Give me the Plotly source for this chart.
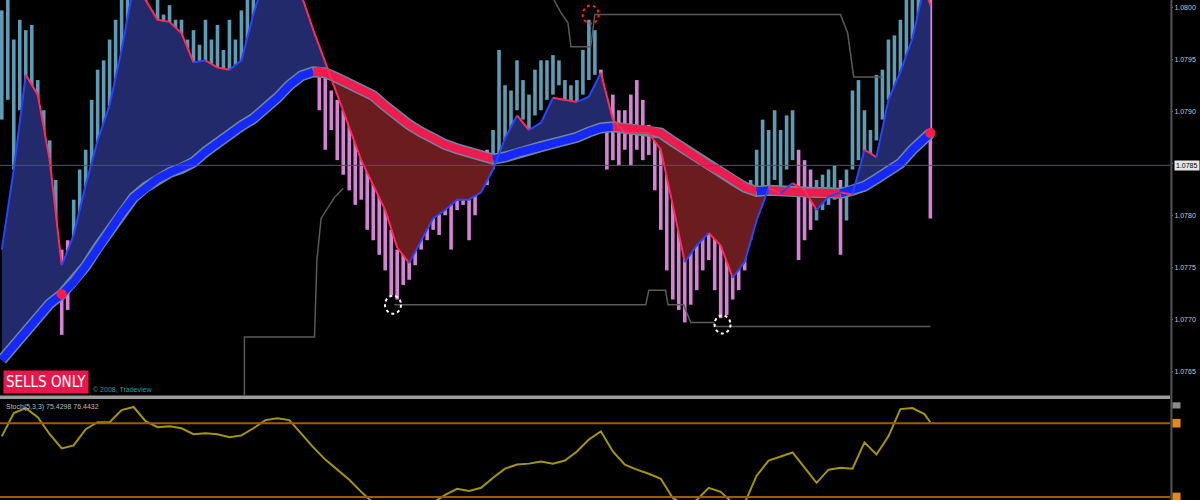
import plotly.graph_objects as go

# bar index on x (one bar ~ 6 px), price on y
line_bars = list(range(0, 156, 2)) + [155]

fast_ma = [1.07767, 1.07844, 1.07935, 1.07916, 1.07853, 1.07752, 1.07781, 1.07829, 1.07872, 1.07906,
           1.07959, 1.08021, 1.08007, 1.07988, 1.07986, 1.07975, 1.07947, 1.07949, 1.07942, 1.07940,
           1.07949, 1.07993, 1.08031, 1.08041, 1.08036, 1.08012, 1.07978, 1.07947, 1.07916, 1.07884,
           1.07853, 1.07829, 1.07805, 1.07769, 1.07754, 1.07776, 1.07797, 1.07805, 1.07815, 1.07815,
           1.07822, 1.07844, 1.07874, 1.07896, 1.07882, 1.07889, 1.07913, 1.07911, 1.07909, 1.07914,
           1.07937, 1.07892, 1.07880, 1.07879, 1.07879, 1.07863, 1.07810, 1.07755, 1.07771, 1.07783,
           1.07771, 1.07740, 1.07755, 1.07795, 1.07826, 1.07821, 1.07831, 1.07824, 1.07805, 1.07818,
           1.07822, 1.07820, 1.07863, 1.07856, 1.07911, 1.07938, 1.07970, 1.08021,
           1.08002]

slow_ma = [1.07661, 1.07675, 1.07690, 1.07703, 1.07715, 1.07724, 1.07736, 1.07751, 1.07769, 1.07786,
           1.07802, 1.07817, 1.07827, 1.07835, 1.07841, 1.07845, 1.07851, 1.07861, 1.07870, 1.07879,
           1.07886, 1.07893, 1.07902, 1.07913, 1.07925, 1.07934, 1.07938, 1.07937, 1.07932, 1.07926,
           1.07920, 1.07915, 1.07905, 1.07895, 1.07887, 1.07880, 1.07873, 1.07868, 1.07864, 1.07860,
           1.07857, 1.07854, 1.07856, 1.07860, 1.07863, 1.07866, 1.07869, 1.07871, 1.07875, 1.07880,
           1.07884, 1.07885, 1.07884, 1.07883, 1.07882, 1.07879, 1.07871, 1.07863, 1.07855, 1.07848,
           1.07842, 1.07834, 1.07827, 1.07823, 1.07824, 1.07823, 1.07823, 1.07822, 1.07822, 1.07822,
           1.07821, 1.07824, 1.07828, 1.07835, 1.07842, 1.07850, 1.07863, 1.07874,
           1.07879]

candle_bars = list(range(156))
candle_high = [1.07997, 1.08007, 1.07969, 1.07988, 1.07978, 1.07983, 1.07930, 1.07901, 1.07872, 1.07834,
               1.07767, 1.07776, 1.07815, 1.07844, 1.07863, 1.07911, 1.07940, 1.07949, 1.07969, 1.07988,
               1.08007, 1.08017, 1.08007, 1.08002, 1.08007, 1.07997, 1.08007, 1.07993, 1.08002, 1.07988,
               1.07988, 1.07969, 1.07978, 1.07964, 1.07988, 1.07969, 1.07983, 1.07959, 1.07988, 1.07969,
               1.07997, 1.08007, 1.08012, 1.08017, 1.08017, 1.08017, 1.08017, 1.08012, 1.08007, 1.07997,
               1.07988, 1.07978, 1.07969, 1.07949, 1.07935, 1.07920, 1.07911, 1.07901, 1.07887, 1.07872,
               1.07863, 1.07848, 1.07839, 1.07829, 1.07815, 1.07786, 1.07767, 1.07771, 1.07767, 1.07791,
               1.07800, 1.07815, 1.07820, 1.07824, 1.07829, 1.07834, 1.07836, 1.07829, 1.07839, 1.07848,
               1.07848, 1.07863, 1.07882, 1.07959, 1.07925, 1.07920, 1.07949, 1.07930, 1.07916, 1.07940,
               1.07949, 1.07949, 1.07954, 1.07949, 1.07930, 1.07925, 1.07930, 1.07959, 1.07988, 1.07978,
               1.07940, 1.07911, 1.07916, 1.07901, 1.07901, 1.07916, 1.07930, 1.07911, 1.07887, 1.07872,
               1.07863, 1.07839, 1.07815, 1.07786, 1.07771, 1.07767, 1.07776, 1.07786, 1.07791, 1.07781,
               1.07776, 1.07767, 1.07757, 1.07767, 1.07805, 1.07834, 1.07863, 1.07892, 1.07882, 1.07901,
               1.07882, 1.07896, 1.07901, 1.07863, 1.07853, 1.07844, 1.07834, 1.07839, 1.07844, 1.07848,
               1.07834, 1.07844, 1.07920, 1.07930, 1.07901, 1.07882, 1.07935, 1.07940, 1.07969, 1.07973,
               1.07988, 1.08007, 1.08017, 1.08017, 1.08017, 1.08017]
candle_low = [1.07892, 1.07911, 1.07844, 1.07901, 1.07916, 1.07901, 1.07872, 1.07834, 1.07795, 1.07767,
              1.07685, 1.07709, 1.07747, 1.07767, 1.07795, 1.07824, 1.07853, 1.07872, 1.07901, 1.07920,
              1.07949, 1.07969, 1.07959, 1.07949, 1.07964, 1.07969, 1.07954, 1.07969, 1.07964, 1.07940,
              1.07930, 1.07911, 1.07920, 1.07935, 1.07940, 1.07901, 1.07925, 1.07925, 1.07930, 1.07935,
              1.07940, 1.07954, 1.07969, 1.07988, 1.07997, 1.08002, 1.07997, 1.07988, 1.07969, 1.07959,
              1.07954, 1.07949, 1.07940, 1.07901, 1.07863, 1.07882, 1.07853, 1.07839, 1.07824, 1.07810,
              1.07815, 1.07786, 1.07776, 1.07762, 1.07747, 1.07723, 1.07719, 1.07733, 1.07738, 1.07752,
              1.07767, 1.07776, 1.07786, 1.07781, 1.07800, 1.07767, 1.07805, 1.07810, 1.07776, 1.07800,
              1.07824, 1.07829, 1.07844, 1.07858, 1.07872, 1.07882, 1.07901, 1.07892, 1.07882, 1.07896,
              1.07901, 1.07911, 1.07916, 1.07925, 1.07906, 1.07901, 1.07906, 1.07916, 1.07930, 1.07935,
              1.07882, 1.07844, 1.07853, 1.07848, 1.07863, 1.07848, 1.07863, 1.07853, 1.07858, 1.07824,
              1.07786, 1.07747, 1.07719, 1.07709, 1.07697, 1.07714, 1.07728, 1.07747, 1.07757, 1.07728,
              1.07701, 1.07704, 1.07719, 1.07728, 1.07747, 1.07776, 1.07815, 1.07824, 1.07820, 1.07834,
              1.07820, 1.07844, 1.07853, 1.07757, 1.07776, 1.07786, 1.07795, 1.07805, 1.07810, 1.07815,
              1.07762, 1.07795, 1.07844, 1.07853, 1.07848, 1.07853, 1.07872, 1.07892, 1.07911, 1.07920,
              1.07935, 1.07949, 1.07969, 1.07988, 1.07993, 1.07797]
# u = bull (light blue) candle, d = bear (pink) candle, as runs
candle_dir_runs = [("u", 10), ("d", 2), ("u", 41), ("d", 29), ("u", 18), ("d", 25),
                   ("u", 8), ("d", 3), ("u", 4), ("d", 1), ("u", 14), ("d", 1)]

# channel step lines
chan_lo1_bars = [40.5, 40.5, 52.2, 52.6, 53.3, 55.5, 57]
chan_lo1 = [1.07622, 1.07683, 1.07683, 1.07757, 1.07797, 1.07817, 1.07826]
chan_lo2_bars = [65.5, 107.5, 108, 110.8, 111.2, 113.8, 115, 118.8, 119.3, 155]
chan_lo2 = [1.07714, 1.07714, 1.07728, 1.07728, 1.07714, 1.07714, 1.07697, 1.07697, 1.07693, 1.07693]
chan_hi_bars = [91.7, 93.3, 94.5, 95, 98.3, 99, 140, 141.2, 142.2, 147]
chan_hi = [1.08012, 1.07995, 1.07985, 1.07962, 1.07962, 1.07993, 1.07993, 1.07975, 1.07933, 1.07933]

# crossing dots on the slow line and fractal circles
cross_bars = [10, 53, 155]
cross_price = [1.07724, 1.07938, 1.07879]
signal_bars = [98.3, 65.3, 120.3]
signal_price = [1.07993, 1.07714, 1.07695]
signal_color = ["#ff2020", "#ffffff", "#ffffff"]

bid = 1.07848

# stochastic panel
stoch = [69.3, 88.2, 92.3, 84.9, 71.0, 59.5, 61.9, 75.1, 80.8, 80.8,
         90.7, 93.2, 81.6, 76.7, 77.5, 75.9, 71.0, 71.8, 71.0, 68.5,
         70.1, 75.9, 82.5, 84.1, 82.5, 71.0, 60.3, 50.4, 42.2, 34.0,
         24.1, 15.1, 11.0, 9.3, 9.3, 11.0, 15.1, 21.6, 26.6, 24.9,
         27.4, 35.6, 43.0, 46.3, 47.1, 48.8, 47.1, 49.6, 57.0, 66.8,
         73.4, 57.0, 46.3, 42.2, 38.9, 34.8, 19.2, 13.4, 17.5, 27.4,
         24.1, 15.1, 15.1, 37.3, 49.6, 52.9, 56.2, 43.8, 31.5, 42.2,
         43.8, 43.0, 64.4, 54.5, 69.3, 91.5, 92.3, 87.4,
         80.8]
stoch_levels = [80, 20]

NAVY = "#222a6c"
MAROON = "#6b1c1f"
UP = "#1428ff"
DN = "#ee1c4e"
C_UP = "#5e9bb4"
C_DN = "#d483d4"
GRAY = "#5a5a5a"


def slope_runs(xs, ys):
    runs = []
    prev = None
    for i in range(len(xs) - 1):
        d = ys[i + 1] - ys[i]
        up = prev if (d == 0 and prev is not None) else d > 0
        if runs and runs[-1][0] == up:
            runs[-1][2] = i + 1
        else:
            runs.append([up, i, i + 1])
        prev = up
    return runs


def fill_runs(xs, fast, slow):
    runs = []
    cur = None
    for k in range(len(xs) - 1):
        a = (xs[k], fast[k], slow[k])
        b = (xs[k + 1], fast[k + 1], slow[k + 1])
        d0, d1 = fast[k] - slow[k], fast[k + 1] - slow[k + 1]
        if d0 * d1 < 0:
            t = d0 / (d0 - d1)
            xc = a[0] + t * (b[0] - a[0])
            yc = a[1] + t * (b[1] - a[1])
            c = (xc, yc, yc)
            pieces = [(d0 > 0, a, c), (d1 > 0, c, b)]
        else:
            pieces = [((d0 + d1) >= 0, a, b)]
        for sgn, p, q in pieces:
            if cur is not None and cur[0] == sgn:
                cur[1].append(q)
            else:
                if cur is not None:
                    runs.append(cur)
                cur = [sgn, [p, q]]
    runs.append(cur)
    return runs


fig = go.Figure()

# fills between fast and slow
for bull, col in [(True, NAVY), (False, MAROON)]:
    fx, fy = [], []
    for sgn, pts in fill_runs(line_bars, fast_ma, slow_ma):
        if sgn != bull:
            continue
        fx += [p[0] for p in pts] + [p[0] for p in reversed(pts)] + [None]
        fy += [p[1] for p in pts] + [p[2] for p in reversed(pts)] + [None]
    fig.add_trace(go.Scatter(x=fx, y=fy, mode="lines", fill="toself", fillcolor=col,
                             line=dict(width=0), hoverinfo="skip"))

# channel lines
for bx, py in [(chan_lo1_bars, chan_lo1), (chan_lo2_bars, chan_lo2), (chan_hi_bars, chan_hi)]:
    fig.add_trace(go.Scatter(x=bx, y=py, mode="lines", line=dict(color=GRAY, width=1.5),
                             hoverinfo="skip"))

# candles
candle_dir = "".join(d * n for d, n in candle_dir_runs)
fig.add_trace(go.Bar(x=candle_bars, base=candle_low,
                     y=[h - l for h, l in zip(candle_high, candle_low)],
                     width=0.6, marker=dict(color=[C_UP if d == "u" else C_DN for d in candle_dir],
                                            line=dict(width=0)),
                     hoverinfo="skip"))

# slow line: outline + coloured core
fig.add_trace(go.Scatter(x=line_bars, y=slow_ma, mode="lines",
                         line=dict(color="#6f86a0", width=11), hoverinfo="skip"))
for up, i0, i1 in slope_runs(line_bars, slow_ma):
    fig.add_trace(go.Scatter(x=line_bars[i0:i1 + 1], y=slow_ma[i0:i1 + 1], mode="lines",
                             line=dict(color=UP if up else DN, width=8), hoverinfo="skip"))

# fast line
for up, i0, i1 in slope_runs(line_bars, fast_ma):
    fig.add_trace(go.Scatter(x=line_bars[i0:i1 + 1], y=fast_ma[i0:i1 + 1], mode="lines",
                             line=dict(color="#2a44ff" if up else "#ff2a58", width=2),
                             hoverinfo="skip"))

fig.add_trace(go.Scatter(x=cross_bars, y=cross_price, mode="markers",
                         marker=dict(color="#ff1a4d", size=10), hoverinfo="skip"))

# stochastic
fig.add_trace(go.Scatter(x=line_bars, y=stoch, mode="lines", xaxis="x2", yaxis="y2",
                         line=dict(color="#a39608", width=2), hoverinfo="skip"))

shapes = []
for b, p, c in zip(signal_bars, signal_price, signal_color):
    shapes.append(dict(type="circle", xref="x", yref="y", xsizemode="pixel", ysizemode="pixel",
                       xanchor=b, yanchor=p, x0=-8, x1=8, y0=-9, y1=9,
                       line=dict(color=c, width=2, dash="dot")))
shapes.append(dict(type="line", xref="paper", yref="y", x0=0, x1=1, y0=bid, y1=bid,
                   line=dict(color="#4c5966", width=1), layer="above"))
for lv in stoch_levels:
    shapes.append(dict(type="line", xref="paper", yref="y2", x0=0, x1=1, y0=lv, y1=lv,
                       line=dict(color="#a85800", width=2)))
    shapes.append(dict(type="rect", xref="paper", yref="y2", x0=1.002, x1=1.009,
                       y0=lv - 3.5, y1=lv + 3.5, fillcolor="#e88a10", line=dict(width=0)))
shapes.append(dict(type="rect", xref="paper", yref="y2", x0=1.002, x1=1.009, y0=92, y1=97,
                   fillcolor="#8a8a8a", line=dict(width=0)))
# panel separator and price-axis line
shapes.append(dict(type="rect", xref="paper", yref="paper", x0=0, x1=1, y0=0.202, y1=0.209,
                   fillcolor="#9c9c9c", line=dict(width=0)))
shapes.append(dict(type="line", xref="paper", yref="paper", x0=1.0012, x1=1.0012, y0=0, y1=1,
                   line=dict(color="#555555", width=2)))

annotations = [
    dict(xref="paper", yref="y", x=1.003, y=bid, xanchor="left", yanchor="middle",
         text="1.0785", showarrow=False, bgcolor="#e6e6e6", borderpad=1,
         font=dict(size=7, color="#000000", family="Liberation Sans")),
    dict(xref="paper", yref="paper", x=0.0026, y=0.236, xanchor="left", yanchor="middle",
         text="SELLS ONLY", showarrow=False, bgcolor="#e8174b", borderpad=2,
         font=dict(size=15, color="#ffffff",
                   family="Liberation Sans Narrow, DejaVu Sans Condensed, sans-serif")),
    dict(xref="paper", yref="paper", x=0.078, y=0.222, xanchor="left", yanchor="middle",
         text="© 2008, Tradeview", showarrow=False,
         font=dict(size=7, color="#1f9e9e", family="Liberation Sans")),
    dict(xref="paper", yref="paper", x=0.003, y=0.187, xanchor="left", yanchor="middle",
         text="Stoch(5,3,3) 75.4298 76.4432", showarrow=False,
         font=dict(size=7, color="#bdbdbd", family="Liberation Sans")),
]

fig.update_layout(
    width=1200, height=500, margin=dict(l=0, r=30, t=0, b=0),
    paper_bgcolor="black", plot_bgcolor="black", showlegend=False, barmode="overlay",
    xaxis=dict(domain=[0, 1], range=[-0.3, 195], anchor="y", showticklabels=False,
               showgrid=False, zeroline=False),
    xaxis2=dict(domain=[0, 1], range=[-0.3, 195], anchor="y2", showticklabels=False,
                showgrid=False, zeroline=False),
    yaxis=dict(domain=[0.21, 1], range=[1.076272, 1.08007], side="right", anchor="x",
               tick0=1.0765, dtick=0.0005, tickformat=".4f", showgrid=False, zeroline=False,
               ticks="outside", ticklen=2, tickcolor="#777777",
               tickfont=dict(size=7, color="#c8c8c8", family="Liberation Sans")),
    yaxis2=dict(domain=[0, 0.202], range=[17.5, 99.7], anchor="x2", showticklabels=False,
                showgrid=False, zeroline=False),
    shapes=shapes, annotations=annotations,
)

fig.write_html("out.html", config={"displayModeBar": False},
               post_script="document.body.style.margin = '0px';")
